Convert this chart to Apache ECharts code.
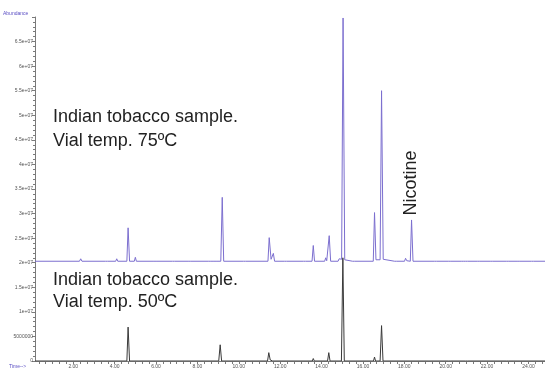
<!DOCTYPE html>
<html>
<head>
<meta charset="utf-8">
<script src="https://cdn.jsdelivr.net/npm/echarts@6/dist/echarts.min.js"></script>
<style>
  html, body { margin: 0; padding: 0; background: #fff; }
  #chart { width: 545px; height: 369px; }
</style>
</head>
<body>
<div id="chart"></div>
<script>
// Abundance values are in millions of counts; SCALE converts them.
const SCALE = 1e6;
// The 75 °C trace is drawn lifted above the 50 °C trace by this amount.
const OFFSET_75 = 20.3e6;

// Retention time (min) and abundance (millions) – vial temp. 75 °C
const time75 = [
  0.15, 2.30, 2.36, 2.42, 3.55, 3.60, 3.65, 4.05, 4.10, 4.15,
  4.59, 4.65, 4.72, 4.95, 5.00, 5.05, 5.90, 5.95, 6.00, 6.80, 6.85, 6.90,
  7.55, 7.60, 7.65, 8.55, 8.60, 8.65, 8.80, 8.85, 8.90,
  9.13, 9.20, 9.27, 10.22, 10.27, 10.32,
  11.41, 11.47, 11.56, 11.61, 11.67, 11.73, 12.20, 12.25, 12.30,
  13.12, 13.17, 13.22, 13.54, 13.60, 13.66,
  14.15, 14.20, 14.25, 14.31, 14.37, 14.44,
  14.80, 14.85, 14.90, 14.97, 15.04, 15.12, 15.18, 15.50, 15.55, 15.60,
  16.50, 16.56, 16.63, 16.83, 16.90, 16.98, 17.05, 17.53, 17.58, 17.63,
  18.01, 18.06, 18.12, 18.29, 18.35, 18.42, 19.45, 19.50, 19.55,
  20.15, 20.20, 20.25, 20.75, 20.80, 20.85, 20.95, 21.00, 21.05,
  21.55, 21.60, 21.65, 22.15, 22.20, 22.25, 22.95, 23.00, 23.05,
  23.45, 23.50, 23.55, 24.15, 24.20, 24.25, 24.80
];
const abund75 = [
  0, 0, 0.5, 0, 0, 0.2, 0, 0, 0.5, 0,
  0, 6.8, 0, 0, 0.8, 0, 0, 0.3, 0, 0, 0.4, 0,
  0, 0.3, 0, 0, 0.3, 0, 0, 0.4, 0,
  0, 13.0, 0, 0, 0.2, 0,
  0, 4.8, 0.4, 0.3, 1.6, 0, 0, 0.2, 0,
  0, 0.3, 0, 0, 3.2, 0,
  0, 0.7, 0.1, 0, 5.2, 0,
  0, 0.5, 0.2, 0.4, 49.5, 0.3, 0, 0, 0.3, 0,
  0, 9.9, 0.3, 0.3, 34.7, 0.4, 0, 0, 0.3, 0,
  0, 0.6, 0.1, 0, 8.4, 0, 0, 0.2, 0,
  0, 0.15, 0, 0, 0.1, 0, 0, 0.2, 0,
  0, 0.1, 0, 0, 0.15, 0, 0, 0.2, 0,
  0, 0.1, 0, 0, 0.15, 0, 0
];

// Retention time (min) and abundance (millions) – vial temp. 50 °C
const time50 = [
  0.15, 4.59, 4.65, 4.72, 9.03, 9.10, 9.17,
  11.39, 11.45, 11.52, 11.58, 11.64, 13.55, 13.60, 13.65,
  14.29, 14.35, 14.41, 14.96, 15.03, 15.10,
  16.51, 16.56, 16.61, 16.83, 16.90, 16.97,
  20.15, 20.20, 20.25, 20.95, 21.00, 21.05, 22.95, 23.00, 23.05, 24.80
];
const abund50 = [
  0, 0, 6.9, 0, 0, 3.3, 0,
  0, 1.7, 0.2, 0.6, 0, 0, 0.5, 0,
  0, 1.7, 0, 0, 21.0, 0,
  0, 0.8, 0, 0, 7.2, 0,
  0, 0.2, 0, 0, 0.2, 0, 0, 0.2, 0, 0
];

// Axis ranges and labelled ticks
const timeMin = 0.15, timeMax = 24.8;
const timeLabels = [2, 4, 6, 8, 10, 12, 14, 16, 18, 20, 22, 24];
const abundMax = 70e6, abundStep = 5e6;

const trace75 = time75.map((t, i) => [t, abund75[i] * SCALE + OFFSET_75]);
const trace50 = time50.map((t, i) => [t, abund50[i] * SCALE]);

// Small tick marks every third of a minute
const timeTicks = [];
for (let k = 1; k * 2 / 6 < timeMax; k++) timeTicks.push(k * 2 / 6);

function abundLabel(v) {
  if (v === 0) return '0';
  if (v >= abundMax) return '';
  if (v < 1e7) return String(v);
  return (v / 1e7) + 'e+07';
}

const axisGray = '#7a7a7a';
const tinyFont = { fontSize: 5, color: '#555', fontFamily: 'Liberation Sans, Arial, sans-serif' };

const chart = echarts.init(document.getElementById('chart'), null, { renderer: 'canvas' });
chart.setOption({
  animation: false,
  backgroundColor: '#fff',
  grid: { left: 35, right: 0, top: 17, bottom: 7, containLabel: false },
  xAxis: {
    type: 'value', min: timeMin, max: timeMax,
    axisLine: { show: true, lineStyle: { color: axisGray, width: 1 } },
    axisTick: { show: true, length: 3, lineStyle: { color: axisGray }, customValues: timeTicks },
    axisLabel: Object.assign({ margin: 3, customValues: timeLabels, formatter: v => v.toFixed(2) }, tinyFont),
    splitLine: { show: false }
  },
  yAxis: {
    type: 'value', min: 0, max: abundMax, interval: abundStep,
    axisLine: { show: true, lineStyle: { color: axisGray, width: 1 } },
    axisTick: { show: true, length: 3, lineStyle: { color: axisGray } },
    minorTick: { show: true, splitNumber: 5, length: 2, lineStyle: { color: axisGray } },
    axisLabel: Object.assign({ margin: 2, formatter: abundLabel }, tinyFont),
    splitLine: { show: false }
  },
  series: [
    {
      name: 'Vial temp. 50ºC', type: 'line', data: trace50, showSymbol: false,
      lineStyle: { color: '#3a3a3a', width: 1 }, z: 2
    },
    {
      name: 'Vial temp. 75ºC', type: 'line', data: trace75, showSymbol: false,
      lineStyle: { color: '#7c6fcf', width: 1 }, z: 3
    }
  ],
  graphic: [
    { type: 'text', left: 3, top: 11, style: { text: 'Abundance', fontSize: 5, fill: '#5b4fc4', fontFamily: 'Liberation Sans, Arial, sans-serif' } },
    { type: 'text', left: 9, top: 364, style: { text: 'Time-->', fontSize: 5, fill: '#5b4fc4', fontFamily: 'Liberation Sans, Arial, sans-serif' } },
    { type: 'text', x: 53, y: 105, style: { text: 'Indian tobacco sample.\nVial temp. 75ºC', fontSize: 18, lineHeight: 24, fill: '#222', fontFamily: 'Liberation Sans, Arial, sans-serif' } },
    { type: 'text', x: 53, y: 269, style: { text: 'Indian tobacco sample.\nVial temp. 50ºC', fontSize: 18, lineHeight: 22, fill: '#222', fontFamily: 'Liberation Sans, Arial, sans-serif' } },
    { type: 'text', x: 411, y: 183, rotation: Math.PI / 2, style: { text: 'Nicotine', fontSize: 18, fill: '#222', align: 'center', verticalAlign: 'middle', fontFamily: 'Liberation Sans, Arial, sans-serif' } }
  ]
});
</script>
</body>
</html>
